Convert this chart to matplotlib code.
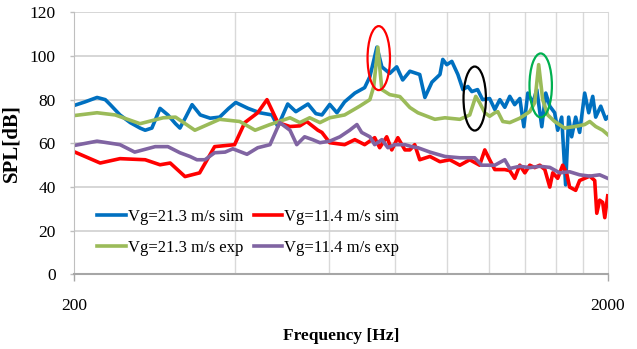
import numpy as np
import matplotlib
matplotlib.use("Agg")
import matplotlib.pyplot as plt
from matplotlib.patches import Ellipse
from matplotlib.ticker import FixedLocator, NullFormatter

plt.rcParams['font.family'] = ['Liberation Serif', 'DejaVu Serif']

# Vg=21.3 m/s sim
f_sim21 = [200, 210, 221, 229, 234, 244, 255, 266, 272, 280, 290, 300, 310, 316, 324, 333,
           345, 360, 375, 390, 402, 424, 446, 470, 482, 503, 521, 549, 568, 583, 603, 622,
           643, 672, 701, 717, 739, 755, 781, 805, 826, 852, 889, 909, 937, 970, 982, 999,
           1021, 1048, 1071, 1094, 1113, 1141, 1166, 1202, 1229, 1256, 1283, 1311, 1339,
           1369, 1393, 1417, 1448, 1473, 1505, 1531, 1558, 1591, 1612, 1640, 1668, 1690,
           1712, 1742, 1772, 1811, 1843, 1875, 1899, 1941, 1983, 2000]
spl_sim21 = [77.3, 79, 81, 80, 77.7, 73, 69.5, 67, 66, 67, 76, 73, 69, 67, 72, 77.7,
             73, 71.5, 72, 76, 78.7, 76, 74, 73, 67.7, 78, 74.5, 78, 73.6, 73, 77.8, 74,
             79, 83, 85.5, 90.5, 104, 95, 92, 95, 89, 93, 91.5, 81, 88, 91.5, 98.4, 96,
             97.5, 91.5, 84.6, 86, 83.7, 84.6, 80, 80.5, 75.5, 80, 76.5, 81.5, 77.7,
             80.5, 67.6, 83, 78.5, 84.6, 67.6, 83, 77, 74, 66, 72, 41, 72,
             63, 72, 65, 83, 74, 81.5, 72, 77, 71, 72]

# Vg=11.4 m/s sim
f_sim11 = [200, 224, 244, 272, 290, 303, 323, 344, 367, 400, 418, 442, 460, 482, 508, 530,
           546, 573, 583, 603, 643, 672, 701, 732, 748, 771, 788, 809, 834, 852, 870, 889,
           929, 970, 1012, 1057, 1103, 1151, 1177, 1202, 1229, 1256, 1283, 1311, 1339,
           1369, 1399, 1429, 1460, 1492, 1525, 1558, 1578, 1612, 1647, 1675, 1697, 1742,
           1772, 1811, 1851, 1891, 1908, 1932, 1957, 1975, 2000]
spl_sim11 = [56.2, 51, 53, 52.5, 50.2, 51, 44.8, 46.5, 58.5, 59.4, 69.5, 74, 80, 69.5, 67.7, 68,
             70, 66, 65, 60.3, 59.4, 61.7, 59.4, 62.6, 58, 63, 57, 62.6, 57, 57, 59.4, 52.5,
             54, 51.6, 52.5, 50, 52.5, 50, 57, 52.5, 48, 48, 48, 47.5, 44,
             50, 46.5, 50, 48.9, 50, 48, 40, 46.5, 44, 50, 46.5, 40, 38.5,
             43, 44, 45, 43, 28, 34, 33, 26, 36]

# Vg=21.3 m/s exp
f_exp21 = [200, 221, 239, 266, 294, 310, 337, 375, 409, 437, 466, 508, 530, 553, 578, 603,
           643, 686, 717, 729, 742, 755, 781, 816, 852, 882, 949, 991, 1057, 1103, 1132,
           1151, 1177, 1202, 1229, 1245, 1272, 1311, 1369, 1429, 1460, 1485, 1511, 1544,
           1591, 1661, 1734, 1811, 1851, 1899, 1957, 2000]
spl_exp21 = [72.7, 74, 73, 69, 71.7, 72, 66, 71, 70, 66, 68.6, 71.7, 69.5, 71.7, 69.5, 71.7,
             73, 77, 80, 86, 104, 84.6, 82.3, 81.4, 76.4, 74, 71, 71.7, 71, 73, 81.5,
             78.6, 74, 72.4, 74, 74.5, 70, 69.5, 71.5, 74.5, 78.6, 96, 80, 73,
             70, 67, 67.7, 68.6, 70, 67.7, 66, 64]

# Vg=11.4 m/s exp
f_exp11 = [200, 221, 244, 260, 284, 300, 316, 330, 340, 352, 367, 384, 397, 422, 442, 466,
           486, 508, 523, 541, 560, 578, 603, 630, 657, 678, 692, 717, 732, 755, 775, 798,
           834, 859, 882, 929, 991, 1057, 1127, 1161, 1229, 1283, 1311, 1369, 1429, 1492,
           1558, 1626, 1697, 1772, 1851, 1932, 2000]
spl_exp11 = [59, 61, 59.4, 56, 58.5, 58.5, 55.7, 54, 52.5, 52.5, 55.7, 56, 57.5, 55, 58, 59.4,
             69.5, 66, 59.4, 63, 61.7, 60.3, 61, 63, 66, 68.6, 65, 63, 59.4, 61.7, 58, 59.4,
             59.4, 58.5, 58, 56, 54, 53.4, 53.4, 50, 50, 52.5, 48.5, 49.5, 48.9, 49.5,
             49, 46.5, 47, 45.6, 45, 45.6, 44]

labels = ['Vg=21.3 m/s sim', 'Vg=11.4 m/s sim', 'Vg=21.3 m/s exp', 'Vg=11.4 m/s exp']
colors = ['#0070C0', '#FF0000', '#9BBB59', '#8064A2']

# marked peaks: (freq, SPL, edge colour)
peak_f = [745, 1127, 1498]
peak_spl = [99, 80.5, 86.5]
peak_col = ['#FF0000', '#000000', '#00B050']

fig = plt.figure(figsize=(6.37, 3.49), dpi=100)
ax = fig.add_axes([0.116, 0.2135, 0.838, 0.7515])

lw = 2.6
l1, = ax.plot(f_sim21, spl_sim21, color=colors[0], lw=lw, label=labels[0])
l2, = ax.plot(f_sim11, spl_sim11, color=colors[1], lw=lw, label=labels[1])
l3, = ax.plot(f_exp21, spl_exp21, color=colors[2], lw=lw, label=labels[2])
l4, = ax.plot(f_exp11, spl_exp11, color=colors[3], lw=lw, label=labels[3])

ax.set_xscale('log')
ax.set_xlim(200, 2000)
ax.set_ylim(0, 120)

ax.xaxis.set_major_locator(FixedLocator([200, 2000]))
ax.set_xticklabels(['200', '2000'])
ax.xaxis.set_minor_locator(FixedLocator(np.arange(400, 2000, 200)))
ax.xaxis.set_minor_formatter(NullFormatter())
ax.set_yticks(np.arange(0, 121, 20))

ax.grid(which='major', axis='y', color='#d0d0d0', lw=1.2)
ax.grid(which='minor', axis='x', color='#d9d9d9', lw=1.0)
ax.set_axisbelow(True)

ax.tick_params(axis='x', which='major', length=5, width=1, color='#a6a6a6', pad=12, labelsize=12.5)
ax.tick_params(axis='x', which='minor', length=0)
ax.tick_params(axis='y', length=3, width=1, color='#bfbfbf', pad=10, labelsize=12.5)

ax.spines['top'].set_visible(False)
ax.spines['left'].set_color('#bfbfbf')
ax.spines['right'].set_color('#d9d9d9')
ax.spines['bottom'].set_color('#a6a6a6')
ax.spines['bottom'].set_linewidth(1.5)

ax.set_xlabel('Frequency [Hz]', fontsize=12.5, fontweight='bold', labelpad=10)
ax.set_ylabel('SPL[dB]', fontsize=15, fontweight='bold', labelpad=6)

ax.legend(handles=[l1, l3, l2, l4], ncol=2, frameon=False, loc='center',
          bbox_to_anchor=(0.327, 0.16), fontsize=12, handlelength=1.7,
          handletextpad=0.15, columnspacing=0.6, labelspacing=0.9, borderpad=0.2)

# ellipses around the resonance peaks, sized in axes fraction
to_axes = ax.transData + ax.transAxes.inverted()
for f, s, c in zip(peak_f, peak_spl, peak_col):
    cx, cy = to_axes.transform((f, s))
    ax.add_patch(Ellipse((cx, cy), 0.042, 0.244, transform=ax.transAxes,
                         fill=False, edgecolor=c, lw=1.6, zorder=5))

fig.savefig('out.png', dpi=100)
